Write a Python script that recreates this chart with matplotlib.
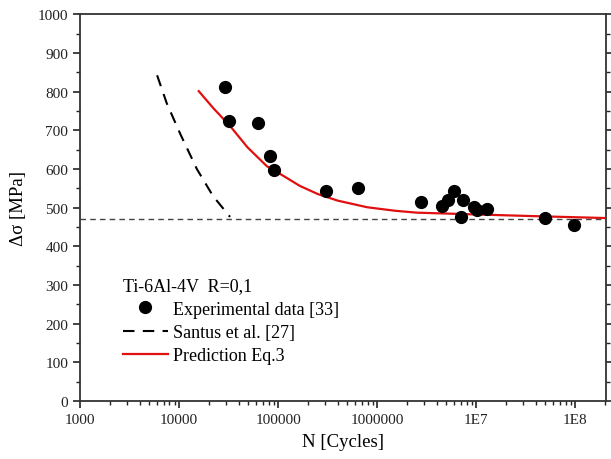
import matplotlib
matplotlib.use("Agg")
import matplotlib.pyplot as plt
from matplotlib.ticker import FixedLocator, MultipleLocator, LogLocator, NullFormatter

plt.rcParams["font.family"] = ["Liberation Serif", "DejaVu Serif"]

# experimental points
exp_n = [29200, 32000, 62300, 83000, 91000, 305000, 646000, 2.75e6, 4.55e6,
         5.2e6, 6.0e6, 7.4e6, 7.1e6, 9.5e6, 1.03e7, 1.29e7, 4.9e7, 9.8e7]
exp_s = [812, 724, 718, 633, 597, 542, 551, 515, 505,
         520, 542, 520, 476, 502, 494, 496, 473, 455]

# Santus et al. curve
santus_n = [6000, 7500, 10300, 15100, 22000, 32700]
santus_s = [842, 770, 690, 600, 530, 476]

# prediction Eq.3
pred_n = [15800, 22000, 32700, 49000, 77000, 105000, 166000, 252000, 400000,
          790000, 1.5e6, 2.5e6, 8.1e6, 3.8e7, 2.05e8]
pred_s = [801, 758, 711, 656, 607, 587, 556, 535, 518,
          501, 492, 487, 483, 478, 473]

fatigue_limit = 470

xticks = [1e3, 1e4, 1e5, 1e6, 1e7, 1e8]
xticklabels = ["1000", "10000", "100000", "1000000", "1E7", "1E8"]

fig = plt.figure(figsize=(6.11, 4.6), dpi=100)
ax = fig.add_axes([0.131, 0.126, 0.861, 0.841])

ax.axhline(fatigue_limit, color="#444444", lw=1.0, ls=(0, (4, 3)), zorder=1)
ax.plot(santus_n, santus_s, color="black", lw=1.5, ls=(0, (5.5, 4)),
        label="Santus et al. [27]", zorder=2)
ax.plot(pred_n, pred_s, color="#e01010", lw=1.6, label="Prediction Eq.3",
        zorder=3)
ax.plot(exp_n, exp_s, "o", color="black", ms=8.5, ls="",
        label="Experimental data [33]", zorder=4)

ax.set_xscale("log")
ax.set_xlim(1e3, 2.05e8)
ax.set_ylim(0, 1000)
ax.xaxis.set_major_locator(FixedLocator(xticks))
ax.set_xticklabels(xticklabels)
ax.xaxis.set_minor_locator(LogLocator(base=10, subs=range(2, 10)))
ax.xaxis.set_minor_formatter(NullFormatter())
ax.yaxis.set_major_locator(MultipleLocator(100))
ax.yaxis.set_minor_locator(MultipleLocator(50))

for s in ax.spines.values():
    s.set_color("#333333")
    s.set_linewidth(1.3)

ax.tick_params(which="both", direction="out", labelsize=11, colors="#222222",
               right=True, top=False)
ax.tick_params(which="major", length=5, width=1.2)
ax.tick_params(which="minor", length=3, width=1.0)

ax.set_xlabel("N [Cycles]", fontsize=13.5, labelpad=5)
ax.set_ylabel("Δσ [MPa]", fontsize=13.5, labelpad=8)

h, l = ax.get_legend_handles_labels()
order = [2, 0, 1]
leg = ax.legend([h[i] for i in order], [l[i] for i in order],
                title="Ti-6Al-4V  R=0,1", title_fontsize=13, fontsize=13,
                frameon=False, loc="lower left", bbox_to_anchor=(0.057, 0.062),
                alignment="left", handlelength=2.5, handletextpad=0.3,
                labelspacing=0.35, borderpad=0.2)

fig.savefig("out.png", dpi=100)
